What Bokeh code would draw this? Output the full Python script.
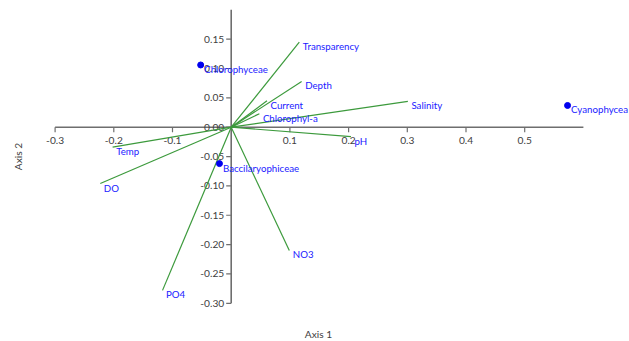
import math
from bokeh.plotting import figure
from bokeh.models import ColumnDataSource, Range1d
from bokeh.core.properties import value
from bokeh.embed import file_html
from bokeh.resources import INLINE

# ---- data ----
var_names = ["Transparency", "Depth", "Current", "Chlorophyl-a", "Salinity",
             "pH", "Temp", "DO", "PO4", "NO3"]
var_x = [0.116, 0.120, 0.061, 0.048, 0.301, 0.204, -0.202, -0.223, -0.117, 0.099]
var_y = [0.145, 0.078, 0.045, 0.023, 0.044, -0.016, -0.034, -0.096, -0.278, -0.210]

sp_names = ["Chlorophyceae", "Baccilaryophiceae", "Cyanophycea"]
sp_x = [-0.052, -0.020, 0.573]
sp_y = [0.106, -0.062, 0.037]

x_ticks = [-0.3, -0.2, -0.1, 0.1, 0.2, 0.3, 0.4, 0.5]
x_tick_labels = ["-0.3", "-0.2", "-0.1", "0.1", "0.2", "0.3", "0.4", "0.5"]
y_ticks = [0.15, 0.10, 0.05, 0.0, -0.05, -0.10, -0.15, -0.20, -0.25, -0.30]
y_tick_labels = ["0.15", "0.10", "0.05", "0.00", "-0.05", "-0.10", "-0.15",
                 "-0.20", "-0.25", "-0.30"]
x_axis_extent = [-0.3, 0.6]
y_axis_extent = [-0.3, 0.2]

# ---- layout ----
W, H = 629, 341
PX = 587.0  # pixels per data unit (equal aspect)
OX, OY = 230.7, 126.7  # pixel position of the origin on the canvas
x0 = -OX / PX
y1 = OY / PX
xr = Range1d(x0, x0 + W / PX)
yr = Range1d(y1 - H / PX, y1)

FONT = "Lato"
BLUE = "#1a1aff"
GREEN = "#3c9a3c"
AXIS = "#6e6e6e"
TICKTXT = "#404040"
FS = "10.2px"
LFS = "9.7px"

p = figure(width=W, height=H, x_range=xr, y_range=yr, output_backend="svg",
           toolbar_location=None, x_axis_location=None, y_axis_location=None,
           min_border=0, outline_line_color=None, tools="")
p.xgrid.visible = False
p.ygrid.visible = False

# axes lines
p.segment(x0=[x_axis_extent[0]], y0=[0], x1=[x_axis_extent[1]], y1=[0],
          line_color=AXIS, line_width=1.6)
p.segment(x0=[0], y0=[y_axis_extent[0]], x1=[0], y1=[y_axis_extent[1]],
          line_color=AXIS, line_width=1.6)

tl = 5 / PX
p.segment(x0=x_ticks, y0=[0] * len(x_ticks), x1=x_ticks, y1=[-tl] * len(x_ticks),
          line_color=AXIS, line_width=1.2)
p.segment(x0=[0] * len(y_ticks), y0=y_ticks, x1=[-tl] * len(y_ticks), y1=y_ticks,
          line_color=AXIS, line_width=1.2)

p.text(x=x_ticks, y=[0] * len(x_ticks), text=x_tick_labels, text_align="center",
       text_baseline="middle", y_offset=13, text_font=value(FONT),
       text_font_size=FS, text_color=TICKTXT)
p.text(x=[0] * len(y_ticks), y=y_ticks, text=y_tick_labels, text_align="right",
       text_baseline="middle", x_offset=-7, text_font=value(FONT),
       text_font_size=FS, text_color=TICKTXT)

# axis titles
p.text(x=[(318 - OX) / PX], y=[(OY - 333) / PX], text=["Axis 1"],
       text_align="center", text_baseline="middle", text_font=value(FONT),
       text_font_size=FS, text_color=TICKTXT)
p.text(x=[(17 - OX) / PX], y=[(OY - 156) / PX], text=["Axis 2"],
       text_align="center", text_baseline="middle", angle=math.pi / 2,
       text_font=value(FONT), text_font_size=FS, text_color=TICKTXT)

# vectors
vsrc = ColumnDataSource(dict(x0=[0] * len(var_x), y0=[0] * len(var_y),
                             x=var_x, y=var_y, name=var_names))
p.segment(x0="x0", y0="y0", x1="x", y1="y", source=vsrc,
          line_color=GREEN, line_width=1.2)
p.text(x="x", y="y", text="name", source=vsrc, x_offset=3.5, y_offset=4,
       text_align="left", text_baseline="middle", text_font=value(FONT),
       text_font_size=LFS, text_color=BLUE)

# species points
ssrc = ColumnDataSource(dict(x=sp_x, y=sp_y, name=sp_names))
p.scatter(x="x", y="y", source=ssrc, size=6, fill_color="#0000ee",
          line_color="#0000ee")
p.text(x="x", y="y", text="name", source=ssrc, x_offset=3.5, y_offset=4,
       text_align="left", text_baseline="middle", text_font=value(FONT),
       text_font_size=LFS, text_color=BLUE)

open("out.html", "w").write(file_html(p, INLINE))
